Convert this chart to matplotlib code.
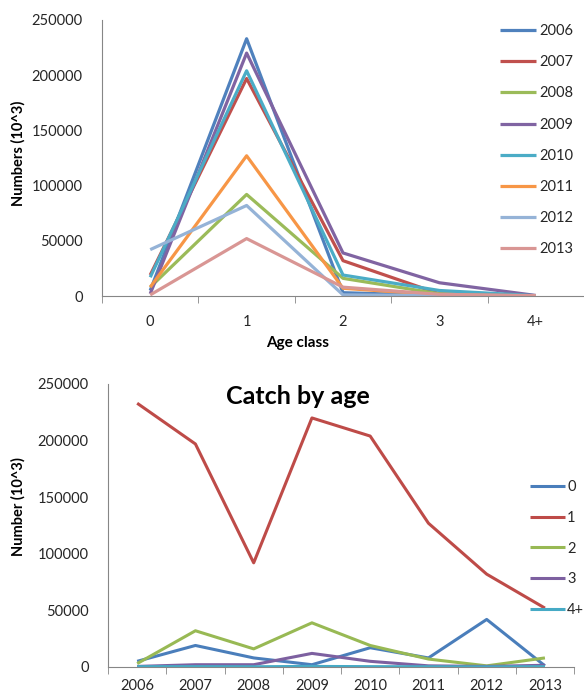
import matplotlib
matplotlib.use("Agg")
import matplotlib.pyplot as plt
import numpy as np

plt.rcParams['font.family'] = ['Lato', 'DejaVu Sans']

# Data
ages = ["0", "1", "2", "3", "4+"]
years = ["2006", "2007", "2008", "2009", "2010", "2011", "2012", "2013"]

# catch numbers (10^3) per age class, one list per year
catch_2006 = [5000, 233000, 3000, 500, 300]
catch_2007 = [19000, 197000, 32000, 2000, 300]
catch_2008 = [8000, 92000, 16000, 2000, 200]
catch_2009 = [2000, 220000, 39000, 12000, 500]
catch_2010 = [17000, 204000, 19000, 5000, 300]
catch_2011 = [8000, 127000, 7000, 1000, 200]
catch_2012 = [42000, 82000, 1000, 500, 100]
catch_2013 = [1000, 52000, 8000, 1500, 300]

year_colors = ["#4F81BD", "#C0504D", "#9BBB59", "#8064A2",
               "#4BACC6", "#F79646", "#95B3D7", "#D99694"]
age_colors = ["#4A7EBB", "#BE4B48", "#98B954", "#7D60A0", "#46AAC5"]

by_year = [catch_2006, catch_2007, catch_2008, catch_2009,
           catch_2010, catch_2011, catch_2012, catch_2013]
by_age = np.array(by_year).T

fig = plt.figure(figsize=(5.84, 6.96), dpi=100)
axis_gray = "#868686"
text_col = "#262626"


def style_axes(ax, n, xpad=14):
    for s in ["top", "right"]:
        ax.spines[s].set_visible(False)
    for s in ["left", "bottom"]:
        ax.spines[s].set_color(axis_gray)
    ax.set_xlim(-0.5, n - 0.5)
    ax.set_ylim(0, 250000)
    ax.set_yticks(np.arange(0, 250001, 50000))
    ax.tick_params(axis="y", length=0, pad=14, labelsize=10.5, labelcolor=text_col)
    ax.set_xticks(range(n))
    ax.tick_params(axis="x", which="major", length=0, pad=xpad, labelsize=10.5,
                   labelcolor=text_col)
    ax.set_xticks(np.arange(-0.5, n, 1.0), minor=True)
    ax.tick_params(axis="x", which="minor", length=5, color=axis_gray)


# Top: numbers by age class, one line per year
ax1 = fig.add_axes([0.1747, 0.5747, 0.8253, 0.3966])
x = np.arange(len(ages))
for yr, vals, c in zip(years, by_year, year_colors):
    ax1.plot(x, vals, color=c, lw=2.3, label=yr, solid_capstyle="butt")
style_axes(ax1, len(ages))
ax1.set_xticklabels(ages)
ax1.legend(loc="upper left", bbox_to_anchor=(0.856, 0.9655),
           bbox_transform=fig.transFigure, frameon=False, fontsize=10.5,
           handlelength=2.5, handletextpad=0.2, labelspacing=1.18,
           borderpad=0, borderaxespad=0, labelcolor=text_col)
fig.text(0.031, 0.78, "Numbers (10^3)", rotation=90, ha="center", va="center",
         fontsize=10.5, fontweight="bold", color="black")
fig.text(0.51, 0.507, "Age class", ha="center", va="center",
         fontsize=11, fontweight="bold", color="black")

# Bottom: catch by age over years
ax2 = fig.add_axes([0.185, 0.0417, 0.798, 0.4066])
xy = np.arange(len(years))
for a, vals, c in zip(ages, by_age, age_colors):
    ax2.plot(xy, vals, color=c, lw=2.2, label=a, solid_capstyle="butt")
style_axes(ax2, len(years), xpad=9)
ax2.set_xticklabels(years)
ax2.legend(loc="upper left", bbox_to_anchor=(0.9075, 0.3103),
           bbox_transform=fig.transFigure, frameon=False, fontsize=10.5,
           handlelength=2.4, handletextpad=0.15, labelspacing=1.15,
           borderpad=0, borderaxespad=0, labelcolor=text_col)
fig.text(0.51, 0.43, "Catch by age", ha="center", va="center",
         fontsize=18, fontweight="bold", color="black")
fig.text(0.031, 0.272, "Number (10^3)", rotation=90, ha="center", va="center",
         fontsize=10.5, fontweight="bold", color="black")

fig.savefig("out.png", dpi=100)
